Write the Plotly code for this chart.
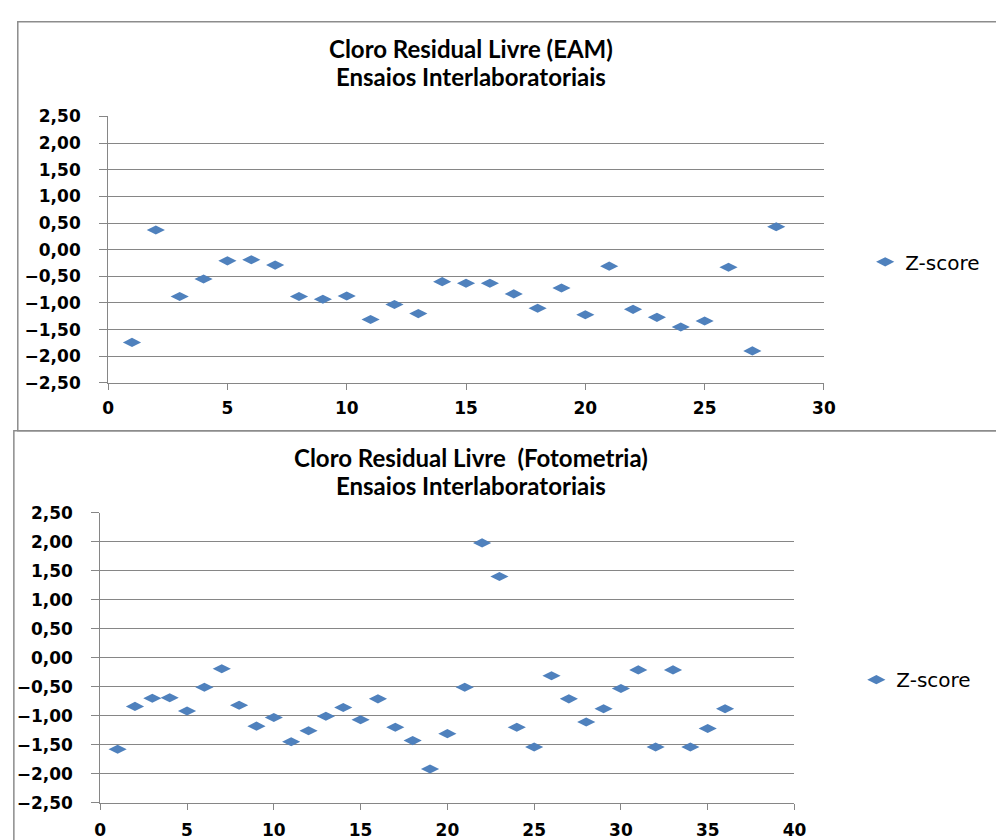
import plotly.graph_objects as go

# ---- data ----
eam_x = list(range(1, 29))
eam_z = [-1.74, 0.37, -0.88, -0.55, -0.21, -0.19, -0.29, -0.88, -0.93, -0.87,
         -1.31, -1.03, -1.20, -0.60, -0.63, -0.63, -0.83, -1.10, -0.72, -1.22,
         -0.31, -1.12, -1.27, -1.45, -1.34, -0.33, -1.90, 0.43]

foto_x = list(range(1, 37))
foto_z = [-1.58, -0.84, -0.70, -0.69, -0.92, -0.51, -0.19, -0.82, -1.18, -1.03,
          -1.45, -1.26, -1.01, -0.86, -1.07, -0.71, -1.20, -1.43, -1.92, -1.31,
          -0.51, 1.98, 1.40, -1.20, -1.54, -0.31, -0.71, -1.11, -0.88, -0.53,
          -0.21, -1.54, -0.21, -1.54, -1.22, -0.88]

series_name = "Z-score"
title_top = ["Cloro Residual Livre (EAM)", "Ensaios Interlaboratoriais"]
title_bot = ["Cloro Residual Livre  (Fotometria)", "Ensaios Interlaboratoriais"]

W, H = 996, 840
def px(x): return x / W
def py(y): return 1 - y / H

BLUE = "#4F81BD"
GRID = "#868686"
tickfont = dict(family="DejaVu Sans", size=17, color="#000000", weight="bold")

fig = go.Figure()
fig.add_trace(go.Scatter(x=eam_x, y=eam_z, mode="markers", name=series_name,
                         marker=dict(symbol="diamond-wide", size=13, color=BLUE),
                         xaxis="x", yaxis="y", legend="legend"))
fig.add_trace(go.Scatter(x=foto_x, y=foto_z, mode="markers", name=series_name,
                         marker=dict(symbol="diamond-wide", size=13, color=BLUE),
                         xaxis="x2", yaxis="y2", legend="legend2"))

def xaxis(domain, rng, anchor, standoff):
    return dict(domain=domain, range=rng, dtick=5, tick0=0, showgrid=False,
                showline=True, linecolor=GRID, linewidth=1, ticks="outside",
                ticklen=6, tickcolor=GRID, tickfont=tickfont, zeroline=False,
                ticklabelstandoff=standoff, anchor=anchor, fixedrange=True)

def yaxis(domain, anchor):
    return dict(domain=domain, range=[-2.5, 2.5], dtick=0.5, tick0=0,
                tickformat=".2f", showgrid=True, gridcolor=GRID, gridwidth=1,
                showline=True, linecolor=GRID, linewidth=1, ticks="outside",
                ticklen=8, tickcolor=GRID, tickfont=tickfont, zeroline=False,
                ticklabelstandoff=15, anchor=anchor, fixedrange=True)

legfont = dict(family="DejaVu Sans", size=20, color="#000")
fig.update_layout(
    width=W, height=H, margin=dict(l=0, r=0, t=0, b=0),
    paper_bgcolor="white", plot_bgcolor="white",
    separators=",.",
    xaxis=xaxis([px(104), px(833)], [0, 30], "y", 4),
    yaxis=yaxis([py(382), py(109)], "x"),
    xaxis2=xaxis([px(96), px(803)], [0, 40], "y2", 6),
    yaxis2=yaxis([py(812), py(515)], "x2"),
    legend=dict(x=px(875), y=py(258), xanchor="left", yanchor="middle",
                font=legfont, bgcolor="rgba(0,0,0,0)", itemwidth=30),
    legend2=dict(x=px(866), y=py(686), xanchor="left", yanchor="middle",
                 font=legfont, bgcolor="rgba(0,0,0,0)", itemwidth=30),
    showlegend=True,
)

tfont = dict(family="Lato", size=24, color="#000", weight="bold")
for text, y in [(title_top[0], 39), (title_top[1], 68),
                (title_bot[0], 458), (title_bot[1], 487)]:
    fig.add_annotation(text=text, x=px(474), y=py(y), xref="paper", yref="paper",
                       xanchor="center", yanchor="middle", showarrow=False,
                       font=tfont)

# chart-area borders
fig.add_shape(type="rect", xref="paper", yref="paper",
              x0=px(12), x1=1.02, y0=py(431), y1=py(12),
              line=dict(color="#8c8c8c", width=1.5), layer="below")
fig.add_shape(type="rect", xref="paper", yref="paper",
              x0=px(8), x1=1.02, y0=-0.05, y1=py(431),
              line=dict(color="#8c8c8c", width=1.5), layer="below")

fig.write_html("out.html")
